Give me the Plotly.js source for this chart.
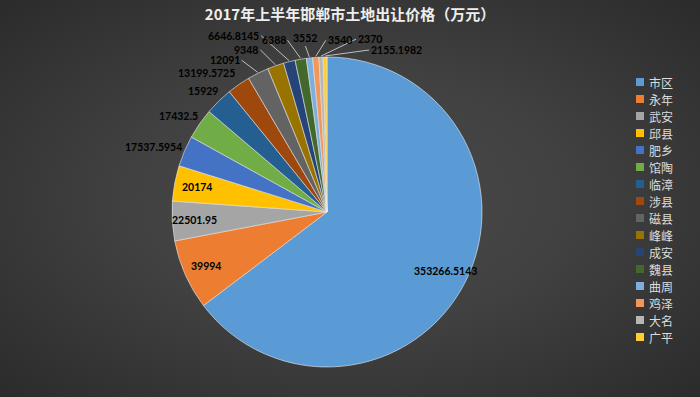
<!DOCTYPE html>
<html>
<head>
<meta charset="utf-8">
<script src="https://cdn.plot.ly/plotly-3.0.1.min.js"></script>
<style>
html,body{margin:0;padding:0;}
body{width:700px;height:397px;background:radial-gradient(ellipse at 50% 50%, #4a4a4a 0%, #414141 45%, #2b2b2b 100%);}
#chart{width:700px;height:397px;}
</style>
</head>
<body>
<div id="chart"></div>
<script>
var categories = ['市区','永年','武安','邱县','肥乡','馆陶','临漳','涉县','磁县','峰峰','成安','魏县','曲周','鸡泽','大名','广平'];
var values = [353266.5143, 39994, 22501.95, 20174, 17537.5954, 17432.5, 15929, 13199.5725, 12091, 9348, 6646.8145, 6388, 3552, 3540, 2370, 2155.1982];
var valueLabels = ['353266.5143','39994','22501.95','20174','17537.5954','17432.5','15929','13199.5725','12091','9348','6646.8145','6388','3552','3540','2370','2155.1982'];
var colors = ['#5B9BD5','#ED7D31','#A5A5A5','#FFC000','#4472C4','#70AD47','#255E91','#9E480E','#636363','#997300','#264478','#43682B','#7CAFDD','#F1975A','#B7B7B7','#FFCD33'];

// label placement (layout only)
var insideCount = 4;
var insideRadius = 0.855;
// outside labels: [dx, dy (px from slice edge), anchor, leader line?]
var labelPlace = [null,null,null,null,
  [-30,-4,'c',0],[-20,-7,'c',0],[-15,-9,'c',0],[-32,-11,'c',0],
  [-16,-12,'r',1],[-15,-15,'r',1],[-28,-25,'r',1],[-13,-18,'r',1],
  [-4,-11,'b',1],[10,-16,'l',1],[35,-17,'l',1],[44,-6,'l',1]];

var W = 700, H = 397;
var cx = 327, cy = 212, R = 155;
var domX = [(cx - R) / W, (cx + R) / W];
var domY = [(H - cy - R) / H, (H - cy + R) / H];
function px2x(p){ return p / W; }
function py2y(p){ return 1 - p / H; }

var total = values.reduce(function(a, b){ return a + b; }, 0);
var annotations = [];
var shapes = [];
var cum = 0;
var lf = {family: 'Lato, "Noto Sans", sans-serif', size: 10.5, color: '#000000', weight: 'bold'};
values.forEach(function(v, i){
  var mid = (cum + v / 2) / total * 2 * Math.PI;
  cum += v;
  var dx = Math.sin(mid), dy = -Math.cos(mid);
  if (i < insideCount) {
    var ix = cx + insideRadius * R * dx, iy = cy + insideRadius * R * dy;
    annotations.push({x: px2x(ix), y: py2y(iy), xref: 'paper', yref: 'paper', text: valueLabels[i],
      showarrow: false, font: lf, xanchor: 'center', yanchor: 'middle'});
    return;
  }
  var ex = cx + (R + 1) * dx, ey = cy + (R + 1) * dy;
  var p = labelPlace[i];
  var ax = ex + p[0], ay = ey + p[1];
  var xa = p[2] === 'r' ? 'right' : (p[2] === 'l' ? 'left' : 'center');
  var ya = p[2] === 'b' ? 'bottom' : 'middle';
  annotations.push({x: px2x(ax + (xa === 'left' ? 1 : (xa === 'right' ? -1 : 0))), y: py2y(ay + (ya === 'bottom' ? -1 : 0)),
    xref: 'paper', yref: 'paper', text: valueLabels[i], showarrow: false,
    xanchor: xa, yanchor: ya, font: lf, borderpad: 0});
  if (p[3]) {
    shapes.push({type: 'line', xref: 'paper', yref: 'paper', x0: px2x(ex), y0: py2y(ey), x1: px2x(ax), y1: py2y(ay),
      line: {color: '#bfbfbf', width: 1}});
  }
});

// custom legend
var legX = 636, legTop = 82, legStep = 17.0, sw = 8;
categories.forEach(function(c, i){
  var y = legTop + i * legStep;
  shapes.push({type: 'rect', xref: 'paper', yref: 'paper',
    x0: px2x(legX), x1: px2x(legX + sw), y0: py2y(y + sw / 2), y1: py2y(y - sw / 2),
    fillcolor: colors[i], line: {width: 0}});
  annotations.push({x: px2x(legX + sw + 3), y: py2y(y), xref: 'paper', yref: 'paper', text: c,
    showarrow: false, xanchor: 'left', yanchor: 'middle',
    font: {family: '"Noto Sans CJK SC", sans-serif', size: 12, color: '#dcdcdc'}});
});

var trace = {
  type: 'pie',
  labels: categories,
  values: values,
  textinfo: 'none',
  sort: false,
  direction: 'clockwise',
  rotation: 0,
  marker: {colors: colors, line: {color: 'rgba(235,235,235,0.75)', width: 0.8}},
  domain: {x: domX, y: domY},
  showlegend: false
};

var layout = {
  width: W, height: H,
  paper_bgcolor: 'rgba(0,0,0,0)',
  plot_bgcolor: 'rgba(0,0,0,0)',
  margin: {l: 0, r: 0, t: 0, b: 0},
  title: {text: '2017年上半年邯郸市土地出让价格（万元）', x: 0.5, xanchor: 'center', y: 0.962, yanchor: 'middle',
          font: {family: '"Noto Sans CJK SC", sans-serif', size: 15, color: '#eeeeee', weight: 'bold'}},
  showlegend: false,
  annotations: annotations,
  shapes: shapes
};

Plotly.newPlot('chart', [trace], layout, {displayModeBar: false, staticPlot: true});
</script>
</body>
</html>
